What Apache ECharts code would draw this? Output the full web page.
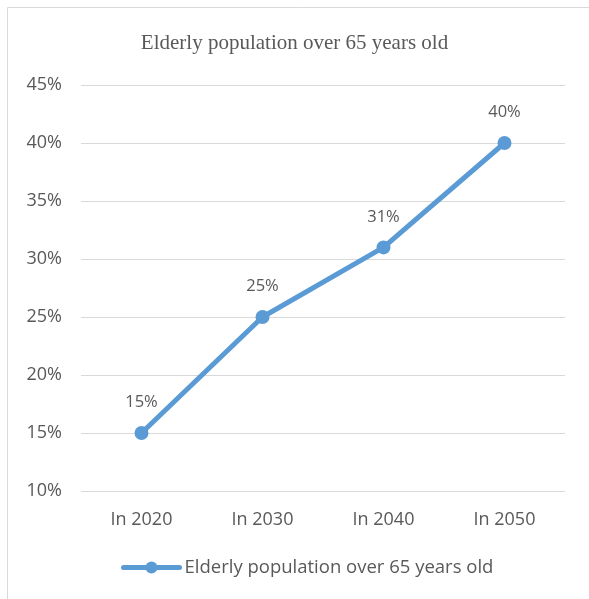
<!DOCTYPE html>
<html>
<head>
<meta charset="utf-8">
<script src="https://cdn.jsdelivr.net/npm/echarts@6/dist/echarts.min.js"></script>
<style>
  html, body { margin: 0; padding: 0; background: #fff; }
  #chartmain { width: 589px; height: 599px; }
</style>
</head>
<body>
<div id="chartmain"></div>
<script>
var categories = ['In 2020', 'In 2030', 'In 2040', 'In 2050'];
var seriesName = 'Elderly population over 65 years old';
var values = [15, 25, 31, 40];

var textColor = '#595959';
var uiFont = '"Open Sans", "Noto Sans", sans-serif';

var chart = echarts.init(document.getElementById('chartmain'));
chart.setOption({
    animation: false,
    graphic: [{
        type: 'rect',
        shape: { x: 7.5, y: 7.5, width: 640, height: 640 },
        style: { fill: 'none', stroke: '#d9d9d9', lineWidth: 1 }
    }],
    title: {
        text: seriesName,
        left: 'center',
        top: 28,
        textStyle: {
            fontFamily: '"Liberation Serif", "Times New Roman", serif',
            fontSize: 21,
            fontWeight: 'normal',
            color: textColor
        }
    },
    legend: {
        bottom: 17,
        left: 116,
        itemWidth: 56,
        itemHeight: 15,
        itemGap: 4,
        data: [seriesName],
        lineStyle: { width: 5 },
        textStyle: { fontFamily: uiFont, fontSize: 18.5, color: textColor }
    },
    grid: { left: 81, right: 24, top: 85, height: 406 },
    xAxis: {
        type: 'category',
        data: categories,
        boundaryGap: true,
        axisLine: { show: false },
        axisTick: { show: false },
        axisLabel: { fontFamily: uiFont, fontSize: 18, color: textColor, margin: 20 }
    },
    yAxis: {
        type: 'value',
        min: 10,
        max: 45,
        interval: 5,
        axisLabel: {
            formatter: '{value}%',
            fontFamily: uiFont, fontSize: 18, color: textColor, margin: 19
        },
        splitLine: { lineStyle: { color: '#d9d9d9', width: 1 } }
    },
    series: [{
        name: seriesName,
        type: 'line',
        data: values,
        symbol: 'circle',
        symbolSize: 14,
        lineStyle: { color: '#5b9bd5', width: 5, cap: 'round' },
        itemStyle: { color: '#5b9bd5' },
        label: {
            show: true,
            position: 'top',
            distance: 15,
            formatter: '{c}%',
            fontFamily: uiFont,
            fontSize: 16.5,
            color: textColor
        }
    }]
});
</script>
</body>
</html>
